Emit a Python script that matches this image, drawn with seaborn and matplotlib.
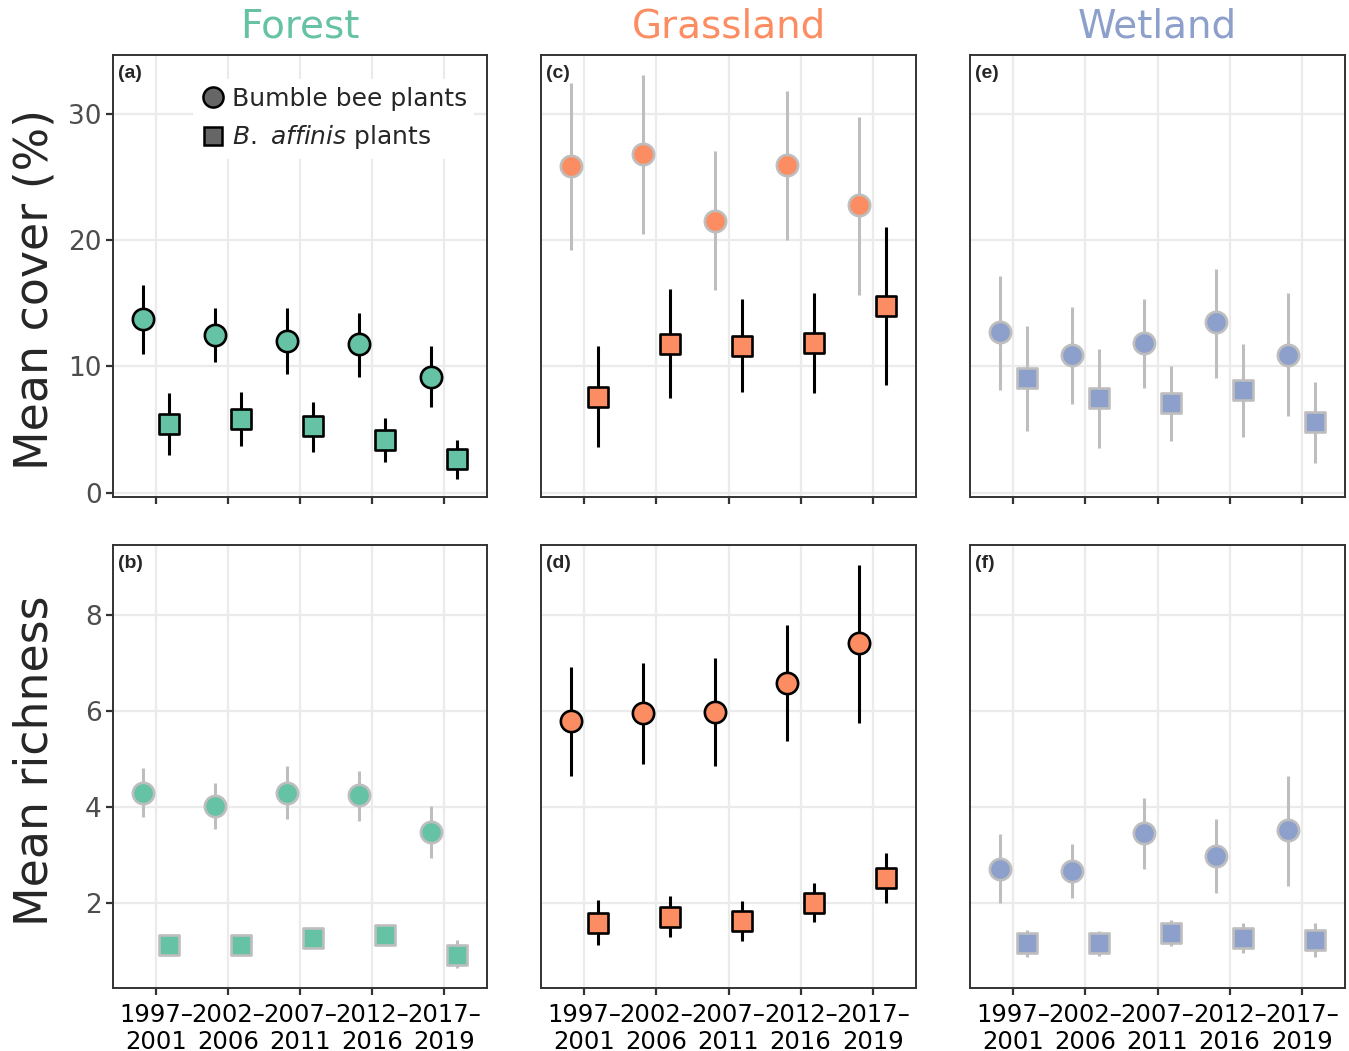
import numpy as np
import pandas as pd
import matplotlib
matplotlib.use("Agg")
import matplotlib.pyplot as plt
from matplotlib.lines import Line2D
import seaborn as sns

# ---------------- data ----------------
periods = ["1997–\n2001", "2002–\n2006", "2007–\n2011", "2012–\n2016", "2017–\n2019"]
habitats = ["Forest", "Grassland", "Wetland"]
plant_types = ["Bumble bee plants", "B. affinis plants"]
metrics = ["cover", "richness"]

# Mean cover (%)
forest_cover_bb = [13.75, 12.5, 12.0, 11.8, 9.2]
forest_cover_bb_lo = [11.0, 10.35, 9.4, 9.2, 6.75]
forest_cover_bb_hi = [16.45, 14.65, 14.6, 14.25, 11.6]
forest_cover_ba = [5.4, 5.8, 5.25, 4.2, 2.7]
forest_cover_ba_lo = [2.95, 3.7, 3.25, 2.45, 1.1]
forest_cover_ba_hi = [7.9, 7.95, 7.15, 5.9, 4.2]

grass_cover_bb = [25.9, 26.85, 21.55, 25.95, 22.8]
grass_cover_bb_lo = [19.2, 20.5, 16.05, 20.05, 15.7]
grass_cover_bb_hi = [32.5, 33.1, 27.05, 31.85, 29.8]
grass_cover_ba = [7.6, 11.8, 11.65, 11.9, 14.8]
grass_cover_ba_lo = [3.6, 7.5, 7.95, 7.9, 8.55]
grass_cover_ba_hi = [11.65, 16.15, 15.35, 15.85, 21.05]

wet_cover_bb = [12.7, 10.9, 11.85, 13.5, 10.95]
wet_cover_bb_lo = [8.1, 7.05, 8.3, 9.05, 6.1]
wet_cover_bb_hi = [17.2, 14.7, 15.35, 17.75, 15.8]
wet_cover_ba = [9.05, 7.5, 7.1, 8.15, 5.6]
wet_cover_ba_lo = [4.85, 3.55, 4.1, 4.4, 2.35]
wet_cover_ba_hi = [13.2, 11.4, 10.05, 11.8, 8.8]

# Mean richness
forest_rich_bb = [4.30, 4.03, 4.30, 4.24, 3.48]
forest_rich_bb_lo = [3.80, 3.55, 3.74, 3.71, 2.93]
forest_rich_bb_hi = [4.81, 4.51, 4.85, 4.76, 4.02]
forest_rich_ba = [1.12, 1.12, 1.27, 1.32, 0.91]
forest_rich_ba_lo = [1.04, 1.04, 1.20, 1.26, 0.63]
forest_rich_ba_hi = [1.20, 1.20, 1.34, 1.40, 1.22]

grass_rich_bb = [5.79, 5.97, 5.99, 6.59, 7.42]
grass_rich_bb_lo = [4.65, 4.90, 4.85, 5.38, 5.76]
grass_rich_bb_hi = [6.93, 7.00, 7.12, 7.81, 9.06]
grass_rich_ba = [1.58, 1.71, 1.62, 2.00, 2.52]
grass_rich_ba_lo = [1.12, 1.29, 1.21, 1.59, 1.99]
grass_rich_ba_hi = [2.06, 2.14, 2.04, 2.42, 3.03]

wet_rich_bb = [2.70, 2.66, 3.45, 2.97, 3.52]
wet_rich_bb_lo = [1.99, 2.09, 2.70, 2.21, 2.36]
wet_rich_bb_hi = [3.43, 3.23, 4.18, 3.74, 4.65]
wet_rich_ba = [1.15, 1.15, 1.36, 1.27, 1.22]
wet_rich_ba_lo = [0.87, 0.89, 1.10, 0.96, 0.87]
wet_rich_ba_hi = [1.43, 1.42, 1.64, 1.57, 1.57]

# which series are drawn with black outline (others grey)
highlighted = {
    ("cover", "Forest"): [True, True],
    ("cover", "Grassland"): [False, True],
    ("cover", "Wetland"): [False, False],
    ("richness", "Forest"): [False, False],
    ("richness", "Grassland"): [True, True],
    ("richness", "Wetland"): [False, False],
}

series = {
    ("cover", "Forest"): [(forest_cover_bb, forest_cover_bb_lo, forest_cover_bb_hi),
                          (forest_cover_ba, forest_cover_ba_lo, forest_cover_ba_hi)],
    ("cover", "Grassland"): [(grass_cover_bb, grass_cover_bb_lo, grass_cover_bb_hi),
                             (grass_cover_ba, grass_cover_ba_lo, grass_cover_ba_hi)],
    ("cover", "Wetland"): [(wet_cover_bb, wet_cover_bb_lo, wet_cover_bb_hi),
                           (wet_cover_ba, wet_cover_ba_lo, wet_cover_ba_hi)],
    ("richness", "Forest"): [(forest_rich_bb, forest_rich_bb_lo, forest_rich_bb_hi),
                             (forest_rich_ba, forest_rich_ba_lo, forest_rich_ba_hi)],
    ("richness", "Grassland"): [(grass_rich_bb, grass_rich_bb_lo, grass_rich_bb_hi),
                                (grass_rich_ba, grass_rich_ba_lo, grass_rich_ba_hi)],
    ("richness", "Wetland"): [(wet_rich_bb, wet_rich_bb_lo, wet_rich_bb_hi),
                              (wet_rich_ba, wet_rich_ba_lo, wet_rich_ba_hi)],
}

rows = []
for (metric, hab), lst in series.items():
    for p, (m, lo, hi) in zip(plant_types, lst):
        for i in range(len(periods)):
            rows.append(dict(metric=metric, habitat=hab, plant=p, period=i,
                             mean=m[i], lo=lo[i], hi=hi[i]))
df = pd.DataFrame(rows)

# ---------------- style ----------------
sns.set_theme(style="white")
plt.rcParams["font.family"] = ["DejaVu Sans"]
plt.rcParams["mathtext.fontset"] = "dejavusans"

hab_colors = {"Forest": "#66C2A5", "Grassland": "#FC8D62", "Wetland": "#8DA0CB"}
GREY = "#BEBEBE"
dodge = {"Bumble bee plants": -0.185, "B. affinis plants": 0.185}
markers = {"Bumble bee plants": "o", "B. affinis plants": "s"}
msize = {"Bumble bee plants": 235, "B. affinis plants": 205}

W, H = 1349, 1051
fig = plt.figure(figsize=(W / 100, H / 100), dpi=100)

col_x = [(113, 487), (541, 916), (970, 1345)]
row_y = [(55, 497), (545, 988)]
ylims = {"cover": (-0.35, 34.7), "richness": (0.22, 9.47)}
yticks = {"cover": [0, 10, 20, 30], "richness": [2, 4, 6, 8]}
letters = [["(a)", "(c)", "(e)"], ["(b)", "(d)", "(f)"]]

for r, metric in enumerate(metrics):
    for c, hab in enumerate(habitats):
        x0, x1 = col_x[c]
        y0, y1 = row_y[r]
        ax = fig.add_axes([x0 / W, 1 - y1 / H, (x1 - x0) / W, (y1 - y0) / H])
        ax.set_axisbelow(True)
        sub_all = df[(df.metric == metric) & (df.habitat == hab)]
        for k, plant in enumerate(plant_types):
            sub = sub_all[sub_all.plant == plant]
            xs = sub["period"].to_numpy() + dodge[plant]
            ec = "black" if highlighted[(metric, hab)][k] else GREY
            ax.vlines(xs, sub["lo"], sub["hi"], color=ec, lw=2.2, zorder=2)
            sns.scatterplot(x=xs, y=sub["mean"].to_numpy(), marker=markers[plant],
                            s=msize[plant], color=hab_colors[hab], edgecolor=ec,
                            linewidth=1.9, ax=ax, zorder=3, legend=False)
        ax.set_xlim(-0.6, 4.6)
        ax.set_ylim(*ylims[metric])
        ax.set_xticks(range(len(periods)))
        ax.set_yticks(yticks[metric])
        ax.set_xlabel("")
        ax.set_ylabel("")
        ax.grid(True, color="#EBEBEB", lw=1.6)
        for sp in ax.spines.values():
            sp.set_visible(True)
            sp.set_color("#333333")
            sp.set_linewidth(1.4)
        ax.tick_params(axis="x", length=5, width=1.6, color="#333333",
                       labelsize=17.5, labelcolor="black", pad=6, bottom=True)
        if r == 1:
            ax.set_xticklabels(periods, linespacing=1.12)
        else:
            ax.tick_params(axis="x", labelbottom=False)
        if c == 0:
            ax.tick_params(axis="y", length=5, width=1.6, color="#333333",
                           labelsize=19, labelcolor="#4D4D4D", pad=3, left=True)
        else:
            ax.tick_params(axis="y", length=0, labelleft=False)
        ax.text(0.013, 0.978, letters[r][c], transform=ax.transAxes, ha="left", va="top",
                fontsize=14, fontweight="bold", family=["Liberation Sans", "DejaVu Sans"])
        if r == 0 and c == 0:
            handles = [Line2D([], [], ls="", marker="o", markersize=14.5, markerfacecolor="#666666",
                              markeredgecolor="black", markeredgewidth=1.8),
                       Line2D([], [], ls="", marker="s", markersize=13.5, markerfacecolor="#666666",
                              markeredgecolor="black", markeredgewidth=1.8)]
            labels = ["Bumble bee plants", r"$\it{B.\ affinis}$ plants"]
            leg = ax.legend(handles, labels, loc="upper left", bbox_to_anchor=(0.215, 0.945),
                            borderaxespad=0, frameon=True, facecolor="white", edgecolor="none",
                            framealpha=1, fontsize=18, handlelength=0.95, handletextpad=0.28,
                            labelspacing=0.5, borderpad=0.3)
        if r == 0:
            fig.text(((x0 + x1) / 2) / W, 1 - 26 / H, hab, ha="center", va="center",
                     fontsize=28, color=hab_colors[hab])

fig.text(35 / W, 1 - 290 / H, "Mean cover (%)", rotation=90, ha="center", va="center", fontsize=33)
fig.text(35 / W, 1 - 761 / H, "Mean richness", rotation=90, ha="center", va="center", fontsize=33)

fig.savefig("out.png", dpi=100)
